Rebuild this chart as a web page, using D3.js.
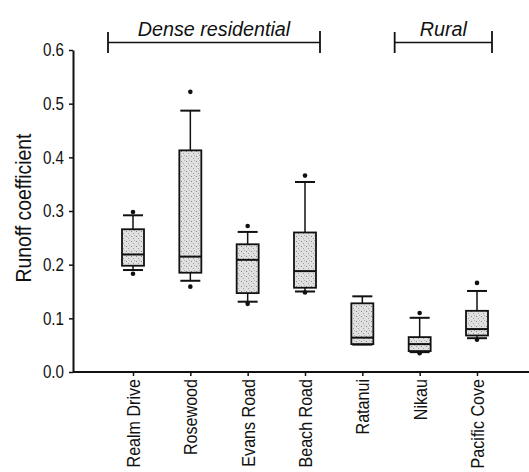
<html>
<head>
    <meta charset="utf-8">
    <style>
        body { margin: 0; background: #fff; }
        text { font-family: "Liberation Sans", Arial, sans-serif; fill: #111; }
    </style>
</head>
<body>
    <script src="https://cdn.jsdelivr.net/npm/d3@7/dist/d3.min.js"></script>
    <script type="text/javascript">
        var width = 529;
        var height = 472;

        // sites and box statistics
        var categories = ["Realm Drive", "Rosewood", "Evans Road", "Beach Road", "Ratanui", "Nikau", "Pacific Cove"];
        var whiskerLow = [0.190, 0.170, 0.131, 0.150, 0.051, 0.037, 0.063];
        var q1 = [0.198, 0.185, 0.147, 0.157, 0.052, 0.039, 0.068];
        var median = [0.219, 0.215, 0.209, 0.188, 0.064, 0.052, 0.080];
        var q3 = [0.266, 0.413, 0.238, 0.260, 0.128, 0.065, 0.114];
        var whiskerHigh = [0.292, 0.487, 0.261, 0.354, 0.141, 0.101, 0.151];
        var outlierHigh = [0.298, 0.522, 0.272, 0.366, null, 0.110, 0.166];
        var outlierLow = [0.183, 0.159, 0.127, 0.148, null, 0.035, 0.060];
        var yTicks = [0, 0.1, 0.2, 0.3, 0.4, 0.5, 0.6];
        var groups = [
            { label: "Dense residential", from: "Realm Drive", to: "Beach Road" },
            { label: "Rural", from: "Nikau", to: "Pacific Cove" }
        ];

        var svg = d3.select("body")
            .append("svg")
            .attr("width", width)
            .attr("height", height);

        // stippled grey fill for the boxes
        var defs = svg.append("defs");
        var pat = defs.append("pattern")
            .attr("id", "stipple")
            .attr("patternUnits", "userSpaceOnUse")
            .attr("width", 5)
            .attr("height", 5);
        pat.append("rect").attr("width", 5).attr("height", 5).attr("fill", "#e0e0e0");
        pat.append("rect").attr("x", 1).attr("y", 1).attr("width", 1).attr("height", 1).attr("fill", "#888");
        pat.append("rect").attr("x", 3).attr("y", 3).attr("width", 1).attr("height", 1).attr("fill", "#a0a0a0");
        pat.append("rect").attr("x", 4).attr("y", 0).attr("width", 1).attr("height", 1).attr("fill", "#b5b5b5");

        var y = d3.scaleLinear().domain([0, 0.6]).range([372, 50]);
        var x = d3.scalePoint().domain(categories).range([133, 477]);
        var axisX = 73;

        // y axis
        var yAxis = svg.append("g")
            .attr("transform", "translate(" + axisX + ",0)")
            .call(d3.axisLeft(y).tickValues(yTicks).tickFormat(d3.format(".1f")).tickSize(4).tickSizeOuter(0));
        yAxis.select(".domain").attr("stroke-width", 2).attr("stroke", "#111");
        yAxis.selectAll(".tick line").attr("stroke-width", 1.5).attr("stroke", "#111");
        yAxis.selectAll(".tick text")
            .style("font-size", "18.5px")
            .attr("x", 0)
            .attr("transform", "translate(-9,0) scale(0.82,1)");

        // x axis
        svg.append("line")
            .attr("x1", axisX).attr("x2", width)
            .attr("y1", y(0)).attr("y2", y(0))
            .attr("stroke", "#111").attr("stroke-width", 2);
        var xAxis = svg.append("g")
            .attr("transform", "translate(0," + y(0) + ")")
            .call(d3.axisBottom(x).tickSize(4).tickSizeOuter(0));
        xAxis.select(".domain").remove();
        xAxis.selectAll(".tick line").attr("stroke-width", 1.5).attr("stroke", "#111");
        xAxis.selectAll(".tick text")
            .style("font-size", "18.5px")
            .style("text-anchor", "end")
            .attr("x", 0)
            .attr("y", 0)
            .attr("dy", "0.35em")
            .attr("transform", "translate(0,7) rotate(-90) scale(0.87,1)");

        // y title
        svg.append("text")
            .attr("transform", "translate(31,208) rotate(-90) scale(0.88,1)")
            .attr("text-anchor", "middle")
            .style("font-size", "22px")
            .text("Runoff coefficient");

        // boxes
        var boxW = 22;
        var capW = 20;
        var boxes = svg.selectAll(".box")
            .data(categories)
            .enter()
            .append("g")
            .attr("class", "box");

        boxes.append("line")
            .attr("x1", d => x(d)).attr("x2", d => x(d))
            .attr("y1", (d, i) => y(whiskerHigh[i])).attr("y2", (d, i) => y(whiskerLow[i]))
            .attr("stroke", "#111").attr("stroke-width", 1.5);
        boxes.append("line")
            .attr("x1", d => x(d) - capW / 2).attr("x2", d => x(d) + capW / 2)
            .attr("y1", (d, i) => y(whiskerHigh[i])).attr("y2", (d, i) => y(whiskerHigh[i]))
            .attr("stroke", "#111").attr("stroke-width", 2);
        boxes.append("line")
            .attr("x1", d => x(d) - capW / 2).attr("x2", d => x(d) + capW / 2)
            .attr("y1", (d, i) => y(whiskerLow[i])).attr("y2", (d, i) => y(whiskerLow[i]))
            .attr("stroke", "#111").attr("stroke-width", 2);
        boxes.append("rect")
            .attr("x", d => x(d) - boxW / 2)
            .attr("width", boxW)
            .attr("y", (d, i) => y(q3[i]))
            .attr("height", (d, i) => y(q1[i]) - y(q3[i]))
            .attr("fill", "url(#stipple)")
            .attr("stroke", "#111").attr("stroke-width", 1.8);
        boxes.append("line")
            .attr("x1", d => x(d) - boxW / 2).attr("x2", d => x(d) + boxW / 2)
            .attr("y1", (d, i) => y(median[i])).attr("y2", (d, i) => y(median[i]))
            .attr("stroke", "#111").attr("stroke-width", 2);

        // outlier dots
        var dots = [];
        categories.forEach(function (c, i) {
            if (outlierHigh[i] != null) dots.push({ c: c, v: outlierHigh[i] });
            if (outlierLow[i] != null) dots.push({ c: c, v: outlierLow[i] });
        });
        svg.selectAll(".dot")
            .data(dots)
            .enter()
            .append("circle")
            .attr("class", "dot")
            .attr("cx", d => x(d.c))
            .attr("cy", d => y(d.v))
            .attr("r", 2.3)
            .attr("fill", "#111");

        // group brackets
        var brackets = svg.selectAll(".bracket")
            .data(groups)
            .enter()
            .append("g")
            .attr("class", "bracket");
        brackets.append("line")
            .attr("x1", d => x(d.from) - 25).attr("x2", d => x(d.to) + 15)
            .attr("y1", 42.5).attr("y2", 42.5)
            .attr("stroke", "#111").attr("stroke-width", 1.5);
        brackets.append("line")
            .attr("x1", d => x(d.from) - 25).attr("x2", d => x(d.from) - 25)
            .attr("y1", 32).attr("y2", 53)
            .attr("stroke", "#111").attr("stroke-width", 1.8);
        brackets.append("line")
            .attr("x1", d => x(d.to) + 15).attr("x2", d => x(d.to) + 15)
            .attr("y1", 31).attr("y2", 53)
            .attr("stroke", "#111").attr("stroke-width", 1.8);
        brackets.append("text")
            .attr("transform", d => "translate(" + ((x(d.from) - 25 + x(d.to) + 15) / 2) + ",36) scale(0.94,1)")
            .attr("text-anchor", "middle")
            .style("font-size", "21px")
            .style("font-style", "italic")
            .text(d => d.label);
    </script>
</body>
</html>
